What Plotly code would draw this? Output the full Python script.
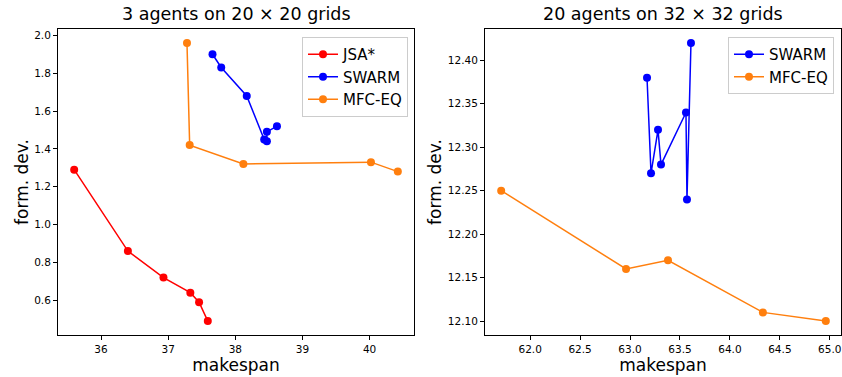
import plotly.graph_objects as go

# Left panel: 3 agents on 20x20 grids
jsa_x = [35.60, 36.40, 36.93, 37.33, 37.46, 37.59]
jsa_y = [1.29, 0.86, 0.72, 0.64, 0.59, 0.49]
swarm1_x = [37.66, 37.79, 38.17, 38.43, 38.47, 38.47, 38.62]
swarm1_y = [1.90, 1.83, 1.68, 1.45, 1.44, 1.49, 1.52]
mfc1_x = [37.28, 37.32, 38.12, 40.02, 40.42]
mfc1_y = [1.96, 1.42, 1.32, 1.33, 1.28]

# Right panel: 20 agents on 32x32 grids
swarm2_x = [63.17, 63.21, 63.28, 63.31, 63.56, 63.57, 63.61]
swarm2_y = [12.38, 12.27, 12.32, 12.28, 12.34, 12.24, 12.42]
mfc2_x = [61.71, 62.96, 63.38, 64.33, 64.96]
mfc2_y = [12.25, 12.16, 12.17, 12.11, 12.10]

left_xticks = [36, 37, 38, 39, 40]
left_yticks = [0.6, 0.8, 1.0, 1.2, 1.4, 1.6, 1.8, 2.0]
right_xticks = [62.0, 62.5, 63.0, 63.5, 64.0, 64.5, 65.0]
right_yticks = [12.10, 12.15, 12.20, 12.25, 12.30, 12.35, 12.40]

RED = "#ff0000"
BLUE = "#0000ff"
ORANGE = "#ff7f0e"
FONT = "DejaVu Sans"

W, H = 842, 377
ML, MR, MT, MB = 58, 1, 29, 42
PW = W - ML - MR
PH = H - MT - MB


def px_x(p):
    return (p - ML) / PW


def px_y(p):
    return 1 - (p - MT) / PH


def tr(x, y, name, color, xa, ya, legend):
    return go.Scatter(x=x, y=y, name=name, mode="lines+markers",
                      line=dict(color=color, width=1.5),
                      marker=dict(color=color, size=8, symbol="circle"),
                      xaxis=xa, yaxis=ya, legend=legend)


fig = go.Figure()
fig.add_trace(tr(jsa_x, jsa_y, "JSA*", RED, "x", "y", "legend"))
fig.add_trace(tr(swarm1_x, swarm1_y, "SWARM", BLUE, "x", "y", "legend"))
fig.add_trace(tr(mfc1_x, mfc1_y, "MFC-EQ", ORANGE, "x", "y", "legend"))
fig.add_trace(tr(swarm2_x, swarm2_y, "SWARM", BLUE, "x2", "y2", "legend2"))
fig.add_trace(tr(mfc2_x, mfc2_y, "MFC-EQ", ORANGE, "x2", "y2", "legend2"))

axis_common = dict(showline=True, linecolor="black", linewidth=1, mirror=True,
                   ticks="outside", ticklen=4, tickcolor="black", showgrid=False,
                   zeroline=False, automargin=False, ticklabeloverflow="allow",
                   tickfont=dict(family=FONT, size=10.5, color="black"))
xtitle = dict(text="makespan", font=dict(family=FONT, size=17, color="black"), standoff=2)
ytitle = dict(text="form. dev.", font=dict(family=FONT, size=17, color="black"), standoff=1)
legend_common = dict(xanchor="right", yanchor="top",
                     bgcolor="rgba(255,255,255,0.8)", bordercolor="#cccccc", borderwidth=1,
                     font=dict(family=FONT, size=15, color="black"), tracegroupgap=0,
                     itemwidth=30)

fig.update_layout(
    width=W, height=H,
    margin=dict(l=ML, r=MR, t=MT, b=MB, autoexpand=False),
    paper_bgcolor="white", plot_bgcolor="white",
    font=dict(family=FONT, color="black"),
    showlegend=True,
    xaxis=dict(domain=[px_x(58), px_x(414)], anchor="y", range=[35.359, 40.661],
               tickvals=left_xticks, ticktext=[str(v) for v in left_xticks],
               title=xtitle, **axis_common),
    yaxis=dict(domain=[0, 1], anchor="x", range=[0.4165, 2.0335],
               tickvals=left_yticks, ticktext=[f"{v:.1f}" for v in left_yticks],
               title=ytitle, **axis_common),
    xaxis2=dict(domain=[px_x(485), px_x(841)], anchor="y2", range=[61.548, 65.112],
                tickvals=right_xticks, ticktext=[f"{v:.1f}" for v in right_xticks],
                title=xtitle, **axis_common),
    yaxis2=dict(domain=[0, 1], anchor="x2", range=[12.084, 12.436],
                tickvals=right_yticks, ticktext=[f"{v:.2f}" for v in right_yticks],
                title=ytitle, **axis_common),
    legend=dict(x=px_x(408), y=px_y(37), **legend_common),
    legend2=dict(x=px_x(834), y=px_y(37), **legend_common),
    annotations=[
        dict(text="3 agents on 20 × 20 grids", x=px_x(236), y=1, yshift=3,
             xref="paper", yref="paper", xanchor="center", yanchor="bottom",
             showarrow=False, font=dict(family=FONT, size=17.5, color="black")),
        dict(text="20 agents on 32 × 32 grids", x=px_x(663), y=1, yshift=3,
             xref="paper", yref="paper", xanchor="center", yanchor="bottom",
             showarrow=False, font=dict(family=FONT, size=17.5, color="black")),
    ],
)

fig.write_html("out.html", config={"displayModeBar": False},
               post_script="document.body.style.margin='0px';document.body.style.overflow='hidden';")
